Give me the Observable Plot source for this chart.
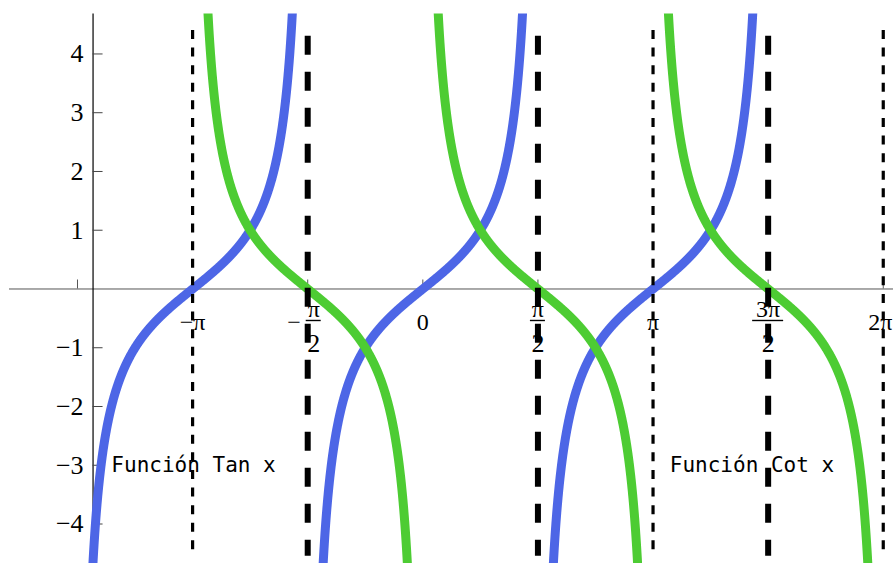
<!DOCTYPE html>
<html>
<head>
<meta charset="utf-8">
<script src="https://cdn.jsdelivr.net/npm/d3@7"></script>
<script src="https://cdn.jsdelivr.net/npm/@observablehq/plot@0.6"></script>
<style>
  html, body { margin: 0; padding: 0; background: #fff; }
  #chart svg { display: block; background: #fff; }
</style>
</head>
<body>
<div id="chart"></div>
<script>
const PI = Math.PI;

// Plot window (the vertical axis sits at x = -4.5)
const xView = [-5.763, 6.423];
const yView = [-4.672, 4.68];
const yAxisAt = -4.5;
const xAxisStart = -5.64;

// Domains over which each function is drawn
const tanDomain = [-3 * PI / 2, 3 * PI / 2];
const cotDomain = [-PI, 2 * PI];
const sampleStep = 0.002;

// Vertical asymptote guides
const cotAsymptotes = [-PI, PI, 2 * PI];
const tanAsymptotes = [-PI / 2, PI / 2, 3 * PI / 2];

// Axis ticks
const xTicks = [-3 * PI / 2, -PI, -PI / 2, 0, PI / 2, PI, 3 * PI / 2, 2 * PI];
const yTicks = [-4, -3, -2, -1, 1, 2, 3, 4];
const yTickLabels = ["−4", "−3", "−2", "−1", "1", "2", "3", "4"];
const xPlainValues = [-PI, 0, PI];
const xPlainLabels = ["−π", "0", "π"];
const xEdgeValues = [2 * PI];
const xEdgeLabels = ["2π"];
const xFracValues = [-PI / 2, PI / 2, 3 * PI / 2];
const xFracSigns = ["−", "", ""];
const xFracNums = ["π", "π", "3π"];
const xFracDens = ["2", "2", "2"];

// Annotations
const noteTexts = ["Función Tan x", "Función Cot x"];
const noteX = [-4.25, 3.37];
const noteY = [-3, -3];

const blue = "rgb(77,102,230)";
const green = "rgb(77,204,51)";

// Sample a function, splitting it into branches between its poles
function sample(f, [a, b], branchOf, nearPole) {
  const pts = [];
  for (let x = a; x <= b + 1e-9; x += sampleStep) {
    if (nearPole(x)) continue;
    pts.push({x, y: f(x), branch: branchOf(x)});
  }
  return pts;
}
const tanPts = sample(Math.tan, tanDomain, x => Math.round(x / PI), x => Math.abs(Math.cos(x)) < 1e-3);
const cotPts = sample(x => 1 / Math.tan(x), cotDomain, x => Math.floor(x / PI), x => Math.abs(Math.sin(x)) < 1e-3);

const W = 893, H = 563;
const mL = 0, mT = 13.5, mR = 0, mB = 0;
const pxPerY = (H - mT - mB) / (yView[1] - yView[0]);
const pxPerX = (W - mL - mR) / (xView[1] - xView[0]);
const xTickLen = 9 / pxPerY;
const yTickLen = 10 / pxPerX;

const serif = "'Liberation Serif', 'Times New Roman', serif";
const mono = "'DejaVu Sans Mono', monospace";

const barHalfPx = [7.5, 7.5, 15.5];
const fracRows = xFracValues.map((v, i) => ({
  x: v, sign: xFracSigns[i], num: xFracNums[i], den: xFracDens[i],
  x1: v - barHalfPx[i] / pxPerX, x2: v + barHalfPx[i] / pxPerX
}));
const fracPos = fracRows.filter(d => !d.sign);
const fracNeg = fracRows.filter(d => d.sign);
const negShift = 6;
const fracNegBar = fracNeg.map(d => ({...d, x1: d.x1 + negShift / pxPerX, x2: d.x2 + negShift / pxPerX}));

const label = {fontFamily: serif, fill: "#000"};

const chart = Plot.plot({
  width: W, height: H,
  marginLeft: mL, marginTop: mT, marginRight: mR, marginBottom: mB,
  x: {domain: xView, axis: null},
  y: {domain: yView, axis: null},
  marks: [
    // axes
    Plot.ruleY([0], {x1: xAxisStart, x2: xView[1], stroke: "#555", strokeWidth: 1}),
    Plot.ruleX([yAxisAt], {y1: yView[0], y2: yView[1], stroke: "#000", strokeWidth: 1.2}),
    Plot.ruleX(xTicks, {x: d => d, y1: 0, y2: xTickLen, stroke: "#555", strokeWidth: 1}),
    Plot.ruleY(yTicks, {y: d => d, x1: yAxisAt, x2: yAxisAt + yTickLen, stroke: "#444", strokeWidth: 1}),
    Plot.text(yTicks, {x: yAxisAt, y: d => d, text: (d, i) => yTickLabels[i], textAnchor: "end", dx: -9.5,
      fontSize: 26, ...label}),
    // x tick labels
    Plot.text(xPlainValues, {x: d => d, y: 0, text: (d, i) => xPlainLabels[i], lineAnchor: "bottom", dy: 41,
      fontSize: 24, ...label}),
    Plot.text(xEdgeValues, {x: d => d, y: 0, text: (d, i) => xEdgeLabels[i], lineAnchor: "bottom", dy: 41, dx: -3,
      fontSize: 24, ...label}),
    Plot.text(fracPos, {x: "x", y: 0, text: "num", lineAnchor: "bottom", dy: 28.5, fontSize: 24, ...label}),
    Plot.text(fracPos, {x: "x", y: 0, text: "den", lineAnchor: "bottom", dy: 63, fontSize: 26, ...label}),
    Plot.ruleY(fracPos, {y: 0, x1: "x1", x2: "x2", dy: 31.5, stroke: "#000", strokeWidth: 1.4}),
    Plot.text(fracNeg, {x: "x", y: 0, text: "num", lineAnchor: "bottom", dy: 28.5, dx: negShift, fontSize: 24, ...label}),
    Plot.text(fracNeg, {x: "x", y: 0, text: "den", lineAnchor: "bottom", dy: 63, dx: negShift, fontSize: 26, ...label}),
    Plot.ruleY(fracNegBar, {y: 0, x1: "x1", x2: "x2", dy: 31.5, stroke: "#000", strokeWidth: 1.4}),
    Plot.text(fracNeg, {x: "x", y: 0, text: "sign", textAnchor: "end", dx: -7, dy: 33, fontSize: 24, ...label}),
    // curves
    Plot.line(tanPts, {x: "x", y: "y", z: "branch", stroke: blue, strokeWidth: 9, clip: true}),
    Plot.line(cotPts, {x: "x", y: "y", z: "branch", stroke: green, strokeWidth: 9, clip: true}),
    // asymptote guides
    Plot.ruleX(cotAsymptotes, {x: d => d, y1: 4.4, y2: -4.5, stroke: "#000", strokeWidth: 3.2, strokeDasharray: "9,8.6"}),
    Plot.ruleX(tanAsymptotes, {x: d => d, y1: 4.3, y2: -4.55, stroke: "#000", strokeWidth: 6, strokeDasharray: "19,17"}),
    // annotations
    Plot.text(noteTexts, {x: (d, i) => noteX[i], y: (d, i) => noteY[i], text: d => d, textAnchor: "start",
      fontFamily: mono, fontSize: 21, fill: "#000"})
  ]
});
document.getElementById("chart").appendChild(chart);
</script>
</body>
</html>
